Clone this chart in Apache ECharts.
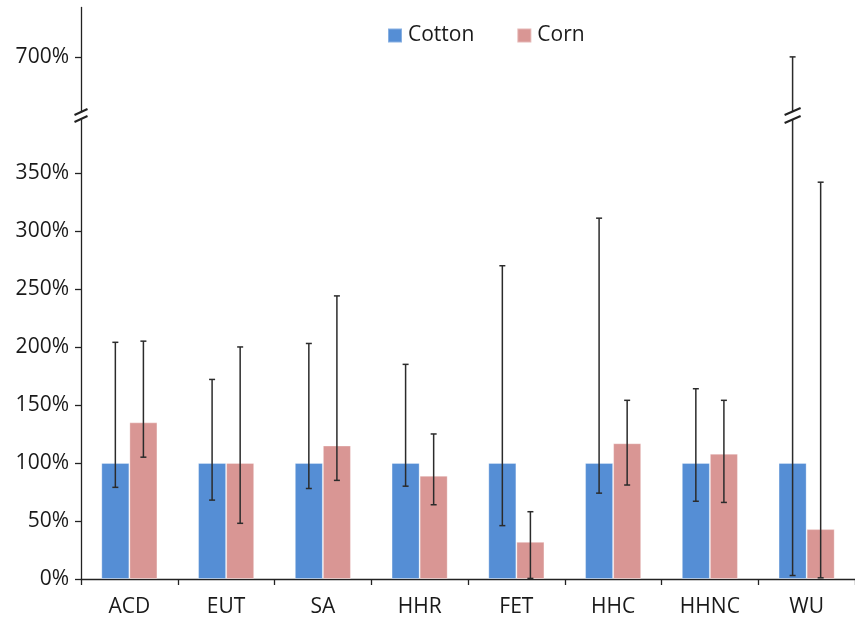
<!DOCTYPE html>
<html>
<head>
<meta charset="utf-8">
<script src="https://cdn.jsdelivr.net/npm/echarts@6/dist/echarts.min.js"></script>
<style>
  html, body { margin: 0; padding: 0; background: #fff; }
  #chart { width: 855px; height: 626px; }
</style>
</head>
<body>
<div id="chart"></div>
<script>
// values (percent)
const categories = ['ACD', 'EUT', 'SA', 'HHR', 'FET', 'HHC', 'HHNC', 'WU']
const cottonValues = [100, 100, 100, 100, 100, 100, 100, 100]
const cottonLow = [79, 68, 78, 80, 46, 74, 67, 3]
const cottonHigh = [204, 172, 203, 185, 270, 311, 164, 700]
const cornValues = [135, 100, 115, 89, 32, 117, 108, 43]
const cornLow = [105, 48, 85, 64, 0.5, 81, 66, 1]
const cornHigh = [205, 200, 244, 125, 58, 154, 154, 342]
const yTickValues = [0, 50, 100, 150, 200, 250, 300, 350, 700]
const axisBreak = { start: 399, end: 650 }

const FONT = "'Open Sans', 'Liberation Sans', sans-serif"
const COLORS = {
  cotton: '#558ED5',
  corn: '#D99694',
  axis: '#222',
  err: '#2b2b2b',
  text: '#1a1a1a',
}
const GRID_LEFT = 81
const BAR_CAT_GAP = 0.42

const chart = echarts.init(document.getElementById('chart'))

function slashes(cx, cy, half, rise, sep, width) {
  // two parallel "//" strokes around (cx, cy)
  return [-sep / 2, sep / 2].map(off => ({
    type: 'line',
    shape: { x1: cx - half, y1: cy + off + rise / 2, x2: cx + half, y2: cy + off - rise / 2 },
    style: { stroke: COLORS.axis, lineWidth: width },
  }))
}

function errorBarRenderer(side) {
  return function (params, api) {
    const i = api.value(0)
    const lowV = api.value(1)
    const highV = api.value(2)
    const bandW = api.size([1, 0])[0]
    const barW = bandW * (1 - BAR_CAT_GAP) / 2
    const lo = api.coord([i, lowV])
    const hi = api.coord([i, highV])
    const x = lo[0] + side * barW / 2
    const stroke = { stroke: COLORS.err, lineWidth: 1.5 }
    const children = []
    const cap = 3
    if (lowV < axisBreak.start && highV > axisBreak.end) {
      const by = api.coord([i, (axisBreak.start + axisBreak.end) / 2])[1]
      children.push({ type: 'line', shape: { x1: x, y1: lo[1], x2: x, y2: by + 4 }, style: stroke })
      children.push({ type: 'line', shape: { x1: x, y1: by - 4, x2: x, y2: hi[1] }, style: stroke })
      children.push(...slashes(x, by, 8, 7, 8, 2))
    } else {
      children.push({ type: 'line', shape: { x1: x, y1: lo[1], x2: x, y2: hi[1] }, style: stroke })
    }
    children.push({ type: 'line', shape: { x1: x - cap, y1: lo[1], x2: x + cap, y2: lo[1] }, style: stroke })
    children.push({ type: 'line', shape: { x1: x - cap, y1: hi[1], x2: x + cap, y2: hi[1] }, style: stroke })
    return { type: 'group', children }
  }
}

chart.setOption({
  animation: false,
  textStyle: { fontFamily: FONT },
  grid: { left: GRID_LEFT, right: -3, top: 7, bottom: 47, containLabel: false },
  legend: {
    data: ['Cotton', 'Corn'],
    left: 387,
    top: 25,
    padding: 0,
    icon: 'rect',
    itemWidth: 14,
    itemHeight: 14,
    itemGap: 42,
    textStyle: { fontFamily: FONT, fontSize: 21, color: COLORS.text, padding: [0, 0, 0, 1] },
  },
  xAxis: {
    type: 'category',
    data: categories,
    axisLine: { lineStyle: { color: COLORS.axis, width: 1.3 } },
    axisTick: { show: true, length: 6, lineStyle: { color: COLORS.axis, width: 1.3 } },
    axisLabel: { fontFamily: FONT, fontSize: 21, color: COLORS.text, margin: 18 },
  },
  yAxis: {
    type: 'value',
    min: 0,
    max: 743,
    interval: 50,
    breaks: [{ start: axisBreak.start, end: axisBreak.end, gap: 1 }],
    breakArea: { show: false },
    axisLine: { show: true, lineStyle: { color: COLORS.axis, width: 1.3 } },
    axisTick: {
      show: true,
      length: 6,
      customValues: yTickValues,
      lineStyle: { color: COLORS.axis, width: 1.3 },
    },
    splitLine: { show: false },
    axisLabel: {
      fontFamily: FONT,
      fontSize: 21,
      color: COLORS.text,
      margin: 12,
      customValues: yTickValues,
      formatter: v => v + '%',
    },
  },
  series: [
    {
      name: 'Cotton',
      type: 'bar',
      data: cottonValues,
      barGap: 0,
      barCategoryGap: (BAR_CAT_GAP * 100) + '%',
      itemStyle: { color: COLORS.cotton, borderColor: 'rgba(255,255,255,0.3)', borderWidth: 1 },
    },
    {
      name: 'Corn',
      type: 'bar',
      data: cornValues,
      barGap: 0,
      barCategoryGap: (BAR_CAT_GAP * 100) + '%',
      itemStyle: { color: COLORS.corn, borderColor: 'rgba(255,255,255,0.3)', borderWidth: 1 },
    },
    {
      type: 'custom',
      name: 'Cotton range',
      renderItem: errorBarRenderer(-1),
      data: categories.map((c, i) => [i, cottonLow[i], cottonHigh[i]]),
      encode: { x: 0, y: [1, 2] },
      z: 10,
    },
    {
      type: 'custom',
      name: 'Corn range',
      renderItem: errorBarRenderer(1),
      data: categories.map((c, i) => [i, cornLow[i], cornHigh[i]]),
      encode: { x: 0, y: [1, 2] },
      z: 10,
    },
  ],
})

// break mark on the y axis line
const breakY = chart.convertToPixel({ yAxisIndex: 0 }, (axisBreak.start + axisBreak.end) / 2)
chart.setOption({
  graphic: [
    {
      type: 'rect',
      shape: { x: GRID_LEFT - 3, y: breakY - 4, width: 6, height: 8 },
      style: { fill: '#fff' },
      z: 100,
    },
    ...slashes(GRID_LEFT, breakY, 6.5, 6, 7, 2).map(s => Object.assign(s, { z: 101 })),
  ],
})

window.addEventListener('resize', () => chart.resize())
</script>
</body>
</html>
